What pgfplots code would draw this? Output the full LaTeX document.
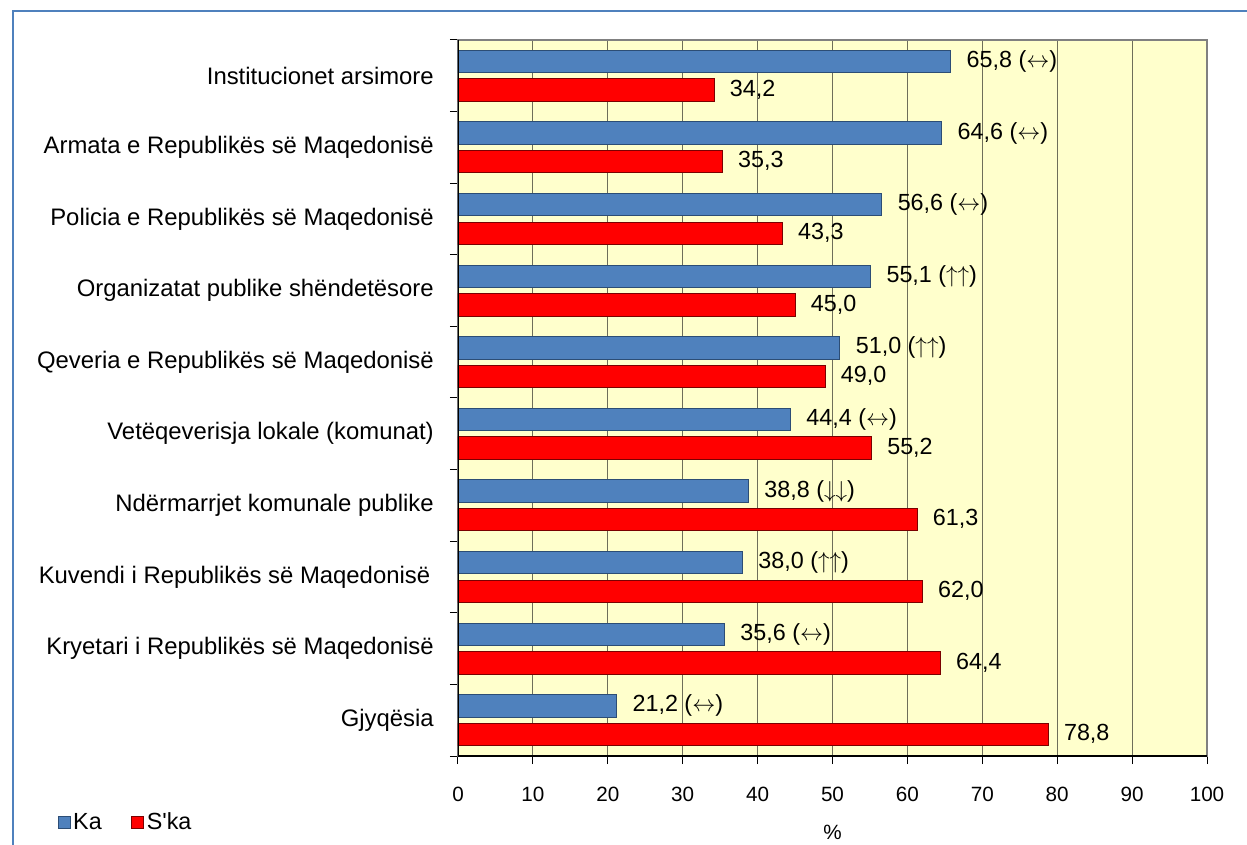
\documentclass[border=0pt]{standalone}
\usepackage{fontspec}
\setmainfont{Liberation Sans}
\usepackage{pgfplots}
\usepackage{pgfplotstable}
\pgfplotsset{compat=1.18}
\definecolor{kablue}{HTML}{4F81BD}
\definecolor{kaedge}{HTML}{2C4D75}
\definecolor{skared}{HTML}{FF0000}
\definecolor{skaedge}{HTML}{7A0000}
\definecolor{plotbg}{HTML}{FFFFCC}
\definecolor{framebl}{HTML}{4F81BD}
\definecolor{gridc}{HTML}{6E6E5A}
\newcommand{\lr}{$\leftrightarrow$}
\newcommand{\uu}{$\uparrow\uparrow$}
\newcommand{\dd}{$\downarrow\downarrow$}

\pgfplotstableread[col sep=semicolon]{
y;ka;kalab;ska;skalab
9;65.8;65,8 (\lr);34.2;34,2
8;64.6;64,6 (\lr);35.3;35,3
7;56.6;56,6 (\lr);43.3;43,3
6;55.1;55,1 (\uu);45.0;45,0
5;51.0;51,0 (\uu);49.0;49,0
4;44.4;44,4 (\lr);55.2;55,2
3;38.8;38,8 (\dd);61.3;61,3
2;38.0;38,0 (\uu);62.0;62,0
1;35.6;35,6 (\lr);64.4;64,4
0;21.2;21,2 (\lr);78.8;78,8
}\datatab

\begin{document}
\begin{tikzpicture}
\path[use as bounding box] (0,0) rectangle (935.25pt,633pt);
\draw[framebl, line width=1.6pt] (9.75pt,-5pt) -- (9.75pt,624.75pt) -- (940pt,624.75pt);
\begin{axis}[
  at={(343.5pt,66pt)}, anchor=south west,
  scale only axis, width=561.75pt, height=537pt,
  xbar, bar width=0.314,
  xmin=0, xmax=100, ymin=-0.5, ymax=9.5,
  axis background/.style={fill=plotbg},
  axis line style={draw=gray, line width=1.5pt},
  xtick={0,10,...,100}, xtick pos=bottom,
  ytick={-0.5,0.5,...,9.5}, yticklabels={}, ytick pos=left,
  extra y ticks={0,...,9},
  extra y tick labels={Gjyqësia,Kryetari i Republikës së Maqedonisë,{Kuvendi i Republikës së Maqedonisë\hspace*{0.15em}},Ndërmarrjet komunale publike,Vetëqeverisja lokale (komunat),Qeveria e Republikës së Maqedonisë,Organizatat publike shëndetësore,Policia e Republikës së Maqedonisë,Armata e Republikës së Maqedonisë,Institucionet arsimore},
  extra y tick style={major tick length=0pt, tick style={draw=none}},
  tick align=outside,
  major tick length=6pt,
  every tick/.style={black, line width=0.75pt},
  xmajorgrids,
  major grid style={gridc, line width=0.75pt},
  /pgf/number format/assume math mode=true,
  xticklabel style={font=\fontsize{15.5}{18}\selectfont, anchor=center, yshift=-23pt},
  yticklabel style={font=\fontsize{17.9}{21}\selectfont, anchor=east, inner sep=0pt, xshift=-18pt},
  xlabel={\%},
  xlabel style={font=\fontsize{15.5}{18}\selectfont, at={(axis description cs:0.5,-0.106)}, anchor=center},
  nodes near coords,
  point meta=explicit symbolic,
  nodes near coords style={font=\fontsize{17.5}{20}\selectfont, anchor=west, inner sep=0pt, xshift=11.5pt, text height=0.716em, text depth=0pt, yshift=-1pt, black},
  legend columns=2,
  legend style={at={(axis description cs:-0.535,-0.0922)}, anchor=west, draw=none, fill=none,
     font=\fontsize{17.5}{20}\selectfont, inner sep=0pt,
     /tikz/every even column/.append style={column sep=20pt}},
]
\addplot[fill=kablue, draw=kaedge, line width=0.75pt, bar shift=0.2,
  legend image code/.code={\draw[fill=kablue, draw=kaedge, line width=0.75pt] (0pt,-4.5pt) rectangle (9pt,4.5pt);}]
  table[x=ka, y=y, meta=kalab] {\datatab};
\addlegendentry{Ka}
\addplot[fill=skared, draw=skaedge, line width=0.75pt, bar shift=-0.2,
  legend image code/.code={\draw[fill=skared, draw=skaedge, line width=0.75pt] (0pt,-4.5pt) rectangle (9pt,4.5pt);}]
  table[x=ska, y=y, meta=skalab] {\datatab};
\addlegendentry{S{\XeTeXglyph\XeTeXcharglyph"27\relax}ka}
\draw[black, line width=0.9pt] (rel axis cs:0,1) -- (rel axis cs:0,0) -- (rel axis cs:1,0);
\end{axis}
\end{tikzpicture}
\end{document}
